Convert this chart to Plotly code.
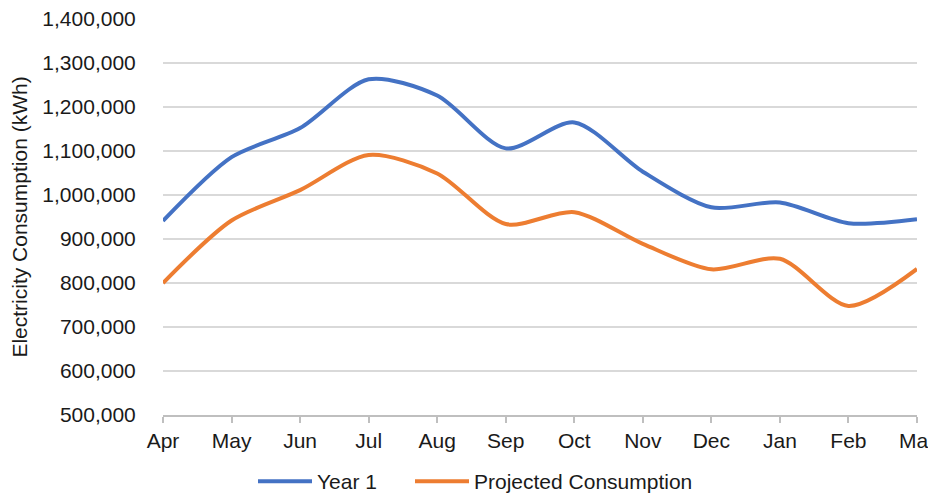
import plotly.graph_objects as go

months = ["Apr", "May", "Jun", "Jul", "Aug", "Sep", "Oct", "Nov", "Dec", "Jan", "Feb", "Mar"]
year1 = [941000, 1086000, 1152000, 1263000, 1226000, 1106000, 1165000, 1053000, 972000, 983000, 936000, 945000]
projected = [800000, 942000, 1011000, 1091000, 1049000, 934000, 961000, 889000, 831000, 855000, 748000, 832000]

fig = go.Figure()
fig.add_trace(go.Scatter(x=months, y=year1, name="Year 1", mode="lines", legend="legend",
                         line=dict(color="#4472C4", width=4, shape="spline", smoothing=0.8)))
fig.add_trace(go.Scatter(x=months, y=projected, name="Projected Consumption", mode="lines", legend="legend2",
                         line=dict(color="#ED7D31", width=4, shape="spline", smoothing=0.8)))

font = "Liberation Sans, Arial, sans-serif"
fs = 21
W, H = 928, 494
leg_common = dict(orientation="h", xref="container", xanchor="left",
                  yref="container", y=-0.026, yanchor="bottom",
                  font=dict(size=fs), itemwidth=54, bgcolor="rgba(0,0,0,0)")
fig.update_layout(
    width=W, height=H,
    margin=dict(l=155, r=19, t=11, b=87, autoexpand=False),
    plot_bgcolor="white", paper_bgcolor="white",
    font=dict(family=font, size=fs, color="#1a1a1a"),
    showlegend=True,
    legend=dict(x=245 / W, **leg_common),
    legend2=dict(x=402 / W, **leg_common),
    xaxis=dict(range=[0, 11], showgrid=False, showline=True, linecolor="#BFBFBF", linewidth=1.5,
               ticks="outside", ticklen=6, tickcolor="#BFBFBF", tickwidth=1.5,
               tickfont=dict(size=fs), zeroline=False, automargin=False,
               ticklabeloverflow="allow"),
    yaxis=dict(range=[500000, 1400000], dtick=100000, tickformat=",", showgrid=True,
               gridcolor="#D9D9D9", gridwidth=1.5, zeroline=False, showline=False,
               ticks="outside", ticklen=22, tickcolor="rgba(0,0,0,0)",
               title=dict(text="Electricity Consumption (kWh)", font=dict(size=fs), standoff=10),
               tickfont=dict(size=fs), automargin=False, ticklabeloverflow="allow"),
)
fig.write_html("out.html")
